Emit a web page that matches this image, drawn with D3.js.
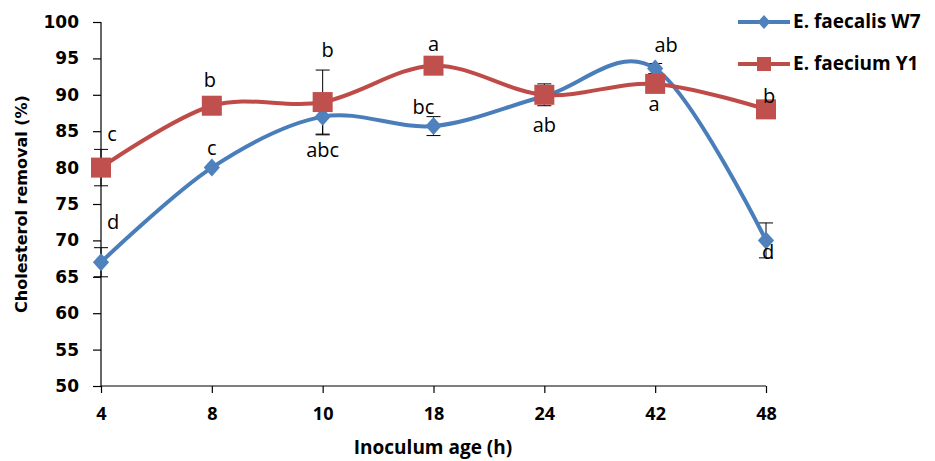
<!DOCTYPE html>
<html>
<head>
<meta charset="utf-8">
<script src="https://cdn.jsdelivr.net/npm/d3@7.9.0/dist/d3.min.js"></script>
<style>
  body { margin: 0; background: #fff; }
  svg { display: block; }
  .tick text { fill: #000; }
</style>
</head>
<body>
<svg id="chart" width="935" height="461"></svg>
<script>
// data
const ages = ["4", "8", "10", "18", "24", "42", "48"];
const w7Values = [67.0, 80.0, 87.0, 85.7, 89.8, 93.6, 70.0];
const w7Err = [2.0, 0, 2.5, 1.3, 0, 0.7, 2.4];
const w7Letters = ["d", "c", "abc", "bc", "", "ab", "d"];
const y1Values = [80.0, 88.5, 89.0, 94.0, 90.0, 91.5, 88.0];
const y1Err = [2.5, 0, 4.4, 0, 1.5, 0, 0];
const y1Letters = ["c", "b", "b", "a", "ab", "a", "b"];
const yTicks = d3.range(50, 101, 5);

const svg = d3.select("#chart");
const margin = { left: 101, top: 22, right: 169, bottom: 75 };
const W = 935, H = 461;

const x = d3.scalePoint().domain(ages).range([margin.left, W - margin.right]);
const y = d3.scaleLinear().domain([50, 100]).range([H - margin.bottom, margin.top]);

// axes
const yAxis = svg.append("g")
  .attr("transform", `translate(${margin.left},0)`)
  .call(d3.axisLeft(y).tickValues(yTicks).tickSize(8).tickPadding(14));
yAxis.selectAll("text")
  .attr("font-family", "DejaVu Sans").attr("font-weight", "bold").attr("font-size", 17);

const xAxis = svg.append("g")
  .attr("transform", `translate(0,${y(50)})`)
  .call(d3.axisBottom(x).tickSize(7).tickPadding(14));
xAxis.selectAll("text")
  .attr("font-family", "Open Sans").attr("font-weight", "bold").attr("font-size", 18);
svg.selectAll(".domain, .tick line").attr("stroke", "#000").attr("stroke-width", 1.2);
xAxis.select(".domain").attr("d", `M${margin.left},0H${W - margin.right}`);
yAxis.select(".domain").attr("d", `M0,${y(100)}V${y(50)}`);

svg.append("text")
  .attr("transform", `translate(22,${(y(50) + y(100)) / 2}) rotate(-90)`)
  .attr("text-anchor", "middle").attr("dominant-baseline", "middle")
  .attr("font-family", "DejaVu Sans").attr("font-weight", "bold").attr("font-size", 16)
  .text("Cholesterol removal (%)");

svg.append("text")
  .attr("x", 433).attr("y", 454)
  .attr("text-anchor", "middle")
  .attr("font-family", "Open Sans").attr("font-weight", "bold").attr("font-size", 19)
  .text("Inoculum age (h)");

const line = d3.line().curve(d3.curveCatmullRom.alpha(0))
  .x((d, i) => x(ages[i])).y(d => y(d));

const series = [
  { name: "E. faecalis W7", values: w7Values, err: w7Err, color: "#4a7ebb", fill: "#4f81bd", shape: "diamond", letters: w7Letters },
  { name: "E. faecium Y1", values: y1Values, err: y1Err, color: "#be4b48", fill: "#c0504d", shape: "square", letters: y1Letters }
];

function marker(g, shape, fill, s) {
  if (shape === "square") {
    g.append("rect").attr("x", -s).attr("y", -s).attr("width", 2 * s).attr("height", 2 * s).attr("fill", fill);
  } else {
    g.append("path").attr("d", `M0,${-s}L${s * 0.9},0L0,${s}L${-s * 0.9},0Z`).attr("fill", fill);
  }
}

// error bars
series.forEach(s => {
  s.values.forEach((v, i) => {
    const e = s.err[i];
    if (!e) return;
    const cx = x(ages[i]);
    const g = svg.append("g").attr("stroke", "#000").attr("stroke-width", 1);
    g.append("line").attr("x1", cx).attr("x2", cx).attr("y1", y(v - e)).attr("y2", y(v + e));
    g.append("line").attr("x1", cx - 7).attr("x2", cx + 7).attr("y1", y(v - e)).attr("y2", y(v - e));
    g.append("line").attr("x1", cx - 7).attr("x2", cx + 7).attr("y1", y(v + e)).attr("y2", y(v + e));
  });
});

series.forEach(s => {
  svg.append("path").attr("d", line(s.values))
    .attr("fill", "none").attr("stroke", s.color).attr("stroke-width", 4);
});
series.forEach(s => {
  s.values.forEach((v, i) => {
    const g = svg.append("g").attr("transform", `translate(${x(ages[i])},${y(v)})`);
    marker(g, s.shape, s.fill, s.shape === "square" ? 10 : 9);
  });
});

// significance letters (dx, dy offsets from point)
const w7Off = [[12, -39], [0, -18], [0, 35], [-10, -17], [0, 0], [11, -22], [2, 13]];
const y1Off = [[11, -32], [-2, -24], [5, -50], [0, -20], [0, 32], [-1, 22], [3, -12]];
function letters(s, off) {
  s.letters.forEach((t, i) => {
    if (!t) return;
    svg.append("text")
      .attr("x", x(ages[i]) + off[i][0]).attr("y", y(s.values[i]) + off[i][1])
      .attr("text-anchor", "middle").attr("dominant-baseline", "middle")
      .attr("font-family", "Open Sans").attr("font-size", 20).attr("fill", "#000")
      .text(t);
  });
}
letters(series[0], w7Off);
letters(series[1], y1Off);

// legend
series.forEach((s, i) => {
  const ly = 22 + i * 42;
  const g = svg.append("g").attr("transform", `translate(738,${ly})`);
  g.append("line").attr("x1", 0).attr("x2", 52).attr("stroke", s.color).attr("stroke-width", 4);
  const m = g.append("g").attr("transform", "translate(26,0)");
  marker(m, s.shape, s.fill, 7);
  g.append("text").attr("x", 55).attr("y", 1).attr("dominant-baseline", "middle")
    .attr("font-family", "Open Sans").attr("font-weight", "bold").attr("font-size", 19)
    .text(s.name);
});
</script>
</body>
</html>
